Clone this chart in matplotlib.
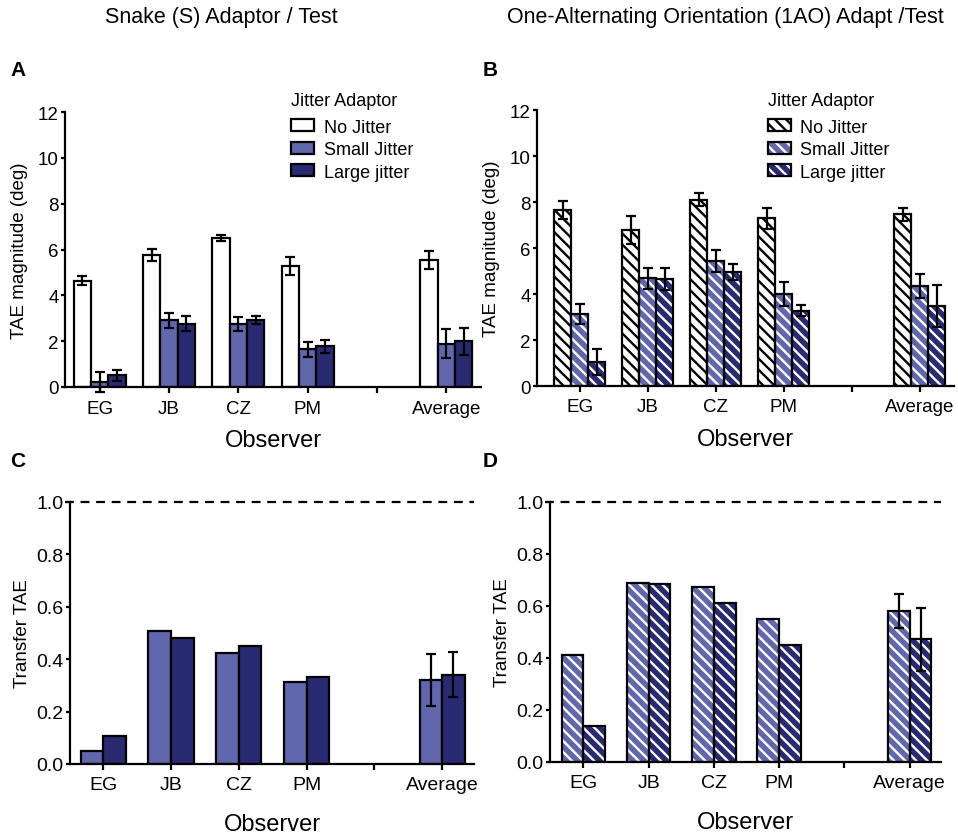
import numpy as np
import matplotlib.pyplot as plt
from matplotlib.patches import Patch

plt.rcParams['font.family'] = ['Liberation Sans', 'DejaVu Sans']
plt.rcParams['font.size'] = 13
plt.rcParams['hatch.linewidth'] = 1.7
plt.rcParams['axes.linewidth'] = 1.6

# observers (position 4 is an empty slot before the average)
observers = ['EG', 'JB', 'CZ', 'PM', 'Average']
tick_labels = ['EG', 'JB', 'CZ', 'PM', '', 'Average']
xpos = np.array([0, 1, 2, 3, 5])

# panel A: snake adaptor, TAE magnitude (deg)
a_none = [4.63, 5.75, 6.50, 5.28, 5.56]
a_none_err = [0.20, 0.27, 0.12, 0.41, 0.39]
a_small = [0.22, 2.91, 2.76, 1.64, 1.89]
a_small_err = [0.43, 0.32, 0.30, 0.33, 0.62]
a_large = [0.51, 2.76, 2.94, 1.77, 1.99]
a_large_err = [0.23, 0.33, 0.17, 0.30, 0.58]

# panel B: 1AO adaptor, TAE magnitude (deg)
b_none = [7.66, 6.78, 8.10, 7.29, 7.46]
b_none_err = [0.40, 0.61, 0.28, 0.46, 0.27]
b_small = [3.14, 4.68, 5.45, 4.00, 4.34]
b_small_err = [0.43, 0.46, 0.48, 0.51, 0.51]
b_large = [1.04, 4.66, 4.97, 3.28, 3.48]
b_large_err = [0.55, 0.49, 0.35, 0.25, 0.90]

# panel C / D: transfer TAE (only average has error bars)
c_small = [0.048, 0.508, 0.425, 0.312, 0.321]
c_large = [0.108, 0.480, 0.450, 0.332, 0.341]
c_small_err = [0, 0, 0, 0, 0.100]
c_large_err = [0, 0, 0, 0, 0.085]
d_small = [0.410, 0.690, 0.675, 0.549, 0.582]
d_large = [0.139, 0.685, 0.613, 0.451, 0.472]
d_small_err = [0, 0, 0, 0, 0.065]
d_large_err = [0, 0, 0, 0, 0.121]

legend_labels = ['No Jitter', 'Small Jitter', 'Large jitter']
c_white = 'white'
c_light = '#6067ad'
c_dark = '#282a72'
hatch = '\\\\\\'

fig = plt.figure(figsize=(9.58, 8.37), dpi=100)
W, H = 958, 837


def add_ax(x0, x1, y_top, y_bot):
    return fig.add_axes([x0 / W, 1 - y_bot / H, (x1 - x0) / W, (y_bot - y_top) / H])


def bars(ax, x, vals, errs, color, hatched, hcolor):
    if hatched:
        ax.bar(x, vals, width=w, color=color, edgecolor=hcolor, hatch=hatch, linewidth=0, zorder=2)
        ax.bar(x, vals, width=w, fill=False, edgecolor='black', linewidth=1.6, zorder=3)
    else:
        ax.bar(x, vals, width=w, color=color, edgecolor='black', linewidth=1.6, zorder=2)
    errs = np.array(errs)
    m = errs > 0
    if m.any():
        ax.errorbar(np.array(x)[m], np.array(vals)[m], yerr=errs[m], fmt='none', ecolor='black',
                    elinewidth=1.6, capsize=3.5, capthick=1.6, zorder=4, clip_on=False)


def style(ax, xlim, ylabel, ylab_size, tick_size, labelpad_x, labelpad_y):
    ax.spines['top'].set_visible(False)
    ax.spines['right'].set_visible(False)
    ax.set_xticks(range(6))
    ax.set_xticklabels(tick_labels)
    ax.set_xlim(*xlim)
    ax.tick_params(direction='out', width=1.6, labelsize=tick_size)
    ax.tick_params(axis='x', length=4, pad=5)
    ax.tick_params(axis='y', length=3, pad=1.5)
    ax.set_xlabel('Observer', fontsize=17, labelpad=labelpad_x)
    ax.set_ylabel(ylabel, fontsize=ylab_size, labelpad=labelpad_y)


def add_legend(ax, handles, x, y):
    leg = ax.legend(handles, legend_labels, title='Jitter Adaptor', loc='upper left',
                    bbox_to_anchor=(x / W, 1 - y / H), bbox_transform=fig.transFigure,
                    frameon=False, borderpad=0, handlelength=1.25, handleheight=0.65,
                    handletextpad=0.55, labelspacing=0.3, alignment='left', fontsize=13,
                    title_fontsize=13, borderaxespad=0)
    leg._legend_box.sep = 7


# --- A ---
w = 0.25
axA = add_ax(65, 481, 113, 388)
bars(axA, xpos - w, a_none, a_none_err, c_white, False, None)
bars(axA, xpos, a_small, a_small_err, c_light, False, None)
bars(axA, xpos + w, a_large, a_large_err, c_dark, False, None)
axA.set_ylim(0, 12)
axA.set_yticks(range(0, 13, 2))
style(axA, (-0.5, 5.5), 'TAE magnitude (deg)', 13.5, 13.5, 9, 7)
hA = [Patch(facecolor=c, edgecolor='black', linewidth=1.6) for c in [c_white, c_light, c_dark]]
add_legend(axA, hA, 291, 93)

# --- B ---
axB = add_ax(537, 954, 111, 387)
bars(axB, xpos - w, b_none, b_none_err, c_white, True, 'black')
bars(axB, xpos, b_small, b_small_err, c_light, True, 'white')
bars(axB, xpos + w, b_large, b_large_err, c_dark, True, 'white')
axB.set_ylim(0, 12)
axB.set_yticks(range(0, 13, 2))
style(axB, (-0.63, 5.5), 'TAE magnitude (deg)', 13.5, 13.5, 9, 7)
hB = []
for c, hc in [(c_white, 'black'), (c_light, 'white'), (c_dark, 'white')]:
    hB.append((Patch(facecolor=c, edgecolor=hc, hatch=hatch, linewidth=0),
               Patch(fill=False, edgecolor='black', linewidth=1.6)))
add_legend(axB, hB, 768, 93)

# --- C ---
w = 1 / 3
axC = add_ax(70, 474, 503, 765)
bars(axC, xpos - w / 2, c_small, c_small_err, c_light, False, None)
bars(axC, xpos + w / 2, c_large, c_large_err, c_dark, False, None)
axC.set_ylim(0, 1.0)
axC.set_yticks(np.arange(0, 1.01, 0.2))
axC.set_yticklabels(['0.0', '0.2', '0.4', '0.6', '0.8', '1.0'])
axC.axhline(1.0, xmin=-0.012, color='black', linestyle=(0, (4, 3)), linewidth=1.6, clip_on=False)
style(axC, (-0.49, 5.47), 'Transfer TAE', 13.5, 14, 14, 4)

# --- D ---
axD = add_ax(550, 941, 503, 763)
bars(axD, xpos - w / 2, d_small, d_small_err, c_light, True, 'white')
bars(axD, xpos + w / 2, d_large, d_large_err, c_dark, True, 'white')
axD.set_ylim(0, 1.0)
axD.set_yticks(np.arange(0, 1.01, 0.2))
axD.set_yticklabels(['0.0', '0.2', '0.4', '0.6', '0.8', '1.0'])
axD.axhline(1.0, xmin=-0.012, color='black', linestyle=(0, (4, 3)), linewidth=1.6, clip_on=False)
style(axD, (-0.51, 5.48), 'Transfer TAE', 13.5, 14, 14, 4)

# titles and panel letters
fig.text(221 / W, 1 - 18 / H, 'Snake (S) Adaptor / Test', ha='center', va='center', fontsize=15.5)
fig.text(725 / W, 1 - 18 / H, 'One-Alternating Orientation (1AO) Adapt /Test', ha='center', va='center', fontsize=15.5)
for txt, x, y in [('A', 10, 70), ('B', 483, 70), ('C', 10, 462), ('D', 483, 462)]:
    fig.text(x / W, 1 - y / H, txt, ha='left', va='center', fontsize=15, fontweight='bold')

fig.savefig('out.png', dpi=100)
